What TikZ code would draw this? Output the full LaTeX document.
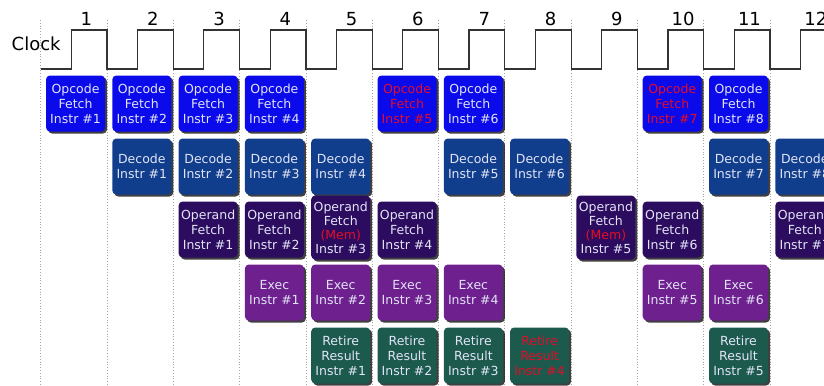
\documentclass[tikz,border=0pt]{standalone}
\usepackage{fontspec}
\setmainfont{DejaVu Sans}
\usepackage{tikz}
\usetikzlibrary{shadows}

\definecolor{opfetch}{RGB}{10,10,235}
\definecolor{decode}{RGB}{16,62,140}
\definecolor{operand}{RGB}{44,12,94}
\definecolor{exec}{RGB}{110,32,142}
\definecolor{retire}{RGB}{28,90,78}
\definecolor{boxtext}{RGB}{226,228,246}
\definecolor{stall}{RGB}{228,12,40}

\begin{document}
\begin{tikzpicture}[x=66.3pt, y=-1pt,
    stage/.style={rounded corners=4pt, minimum width=59pt, minimum height=56pt,
        inner sep=0pt, align=center, text=boxtext,
        font=\fontsize{12.5}{15}\selectfont,
        drop shadow={shadow xshift=2pt, shadow yshift=-2pt, fill=black, opacity=0.75}},
    memstage/.style={stage, minimum height=64pt, font=\fontsize{12.5}{14}\selectfont}]
    \useasboundingbox (-0.614,0) rectangle (11.814,385);

    % cycle boundaries
    \foreach \k in {0,...,11}
        \draw[gray!70, dotted, line width=0.8pt] (\k,20) -- (\k,385);

    % clock
    \node[anchor=base west, inner sep=0pt, font=\fontsize{18}{20}\selectfont] (clk) at (-0.44,50) {Clock};
    \draw[black!80, line width=1.2pt] (0,69)
        \foreach \k in {0,...,11} { -- (\k+0.46,69) -- (\k+0.46,30) -- (\k+1,30) -- (\k+1,69) };
    \foreach \n in {1,...,12}
        \node[anchor=base, font=\fontsize{18}{20}\selectfont] (cyc\n) at (\n-0.31,26) {\n};

    % opcode fetch
    \foreach \c/\i in {1/1,2/2,3/3,4/4,7/6,11/8}
        \node[stage, fill=opfetch] (of\i) at (\c-0.475,103.5) {Opcode\\Fetch\\Instr \#\i};
    \node[stage, fill=opfetch, text=stall] (of5) at (6-0.475,103.5) {Opcode\\Fetch\\Instr \#5};
    \node[stage, fill=opfetch, text=stall] (of7) at (10-0.475,103.5) {Opcode\\Fetch\\Instr \#7};

    % decode
    \foreach \c/\i in {2/1,3/2,4/3,5/4,7/5,8/6,11/7,12/8}
        \node[stage, fill=decode] (dc\i) at (\c-0.475,166.5) {Decode\\Instr \#\i};

    % operand fetch
    \foreach \c/\i in {3/1,4/2,6/4,10/6,12/7}
        \node[stage, fill=operand] (op\i) at (\c-0.475,229.5) {Operand\\Fetch\\Instr \#\i};
    \node[memstage, fill=operand] (op3) at (5-0.475,227.5)
        {Operand\\Fetch\\\textcolor{stall}{(Mem)}\\Instr \#3};
    \node[memstage, fill=operand] (op5) at (9-0.475,227.5)
        {Operand\\Fetch\\\textcolor{stall}{(Mem)}\\Instr \#5};

    % exec
    \foreach \c/\i in {4/1,5/2,6/3,7/4,10/5,11/6}
        \node[stage, fill=exec] (ex\i) at (\c-0.475,292.5) {Exec\\Instr \#\i};

    % retire
    \foreach \c/\i in {5/1,6/2,7/3,11/5}
        \node[stage, fill=retire] (rt\i) at (\c-0.475,355.5) {Retire\\Result\\Instr \#\i};
    \node[stage, fill=retire, text=stall] (rt4) at (8-0.475,355.5) {Retire\\Result\\Instr \#4};
\end{tikzpicture}
\end{document}
